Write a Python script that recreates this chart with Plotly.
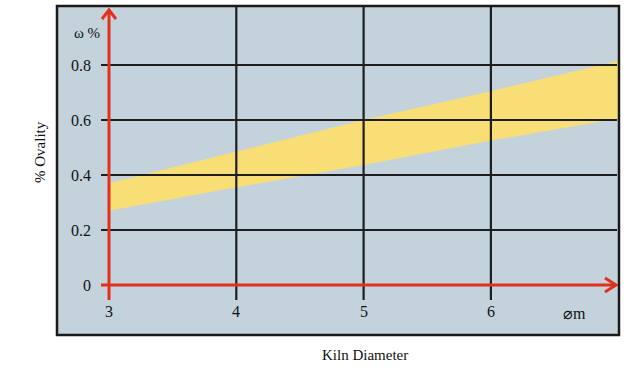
import plotly.graph_objects as go

# ---- data ----
diameters = [3, 4, 5, 6, 7]
ovality_upper = [0.37, 0.485, 0.60, 0.705, 0.815]
ovality_lower = [0.27, 0.355, 0.436, 0.525, 0.605]
x_ticks = [3, 4, 5, 6]
y_ticks = [0, 0.2, 0.4, 0.6, 0.8]
y_tick_labels = ["0", "0.2", "0.4", "0.6", "0.8"]
x_axis_title = "Kiln Diameter"
y_axis_title = "% Ovality"
x_unit = "⌀m"
y_unit = "ω %"

# ---- geometry ----
W, H = 641, 379
L, R, T, B = 57, 22, 6, 44
pw, ph = W - L - R, H - T - B
x0_px, px_per_x = 109 - L, 127.3   # pixel of x=3 inside plot, px per unit
y0_px, px_per_y = 285 - T, 275.0   # pixel of y=0 from top, px per unit
x_rng = [3 - x0_px / px_per_x, 3 + (pw - x0_px) / px_per_x]
y_rng = [(y0_px - ph) / px_per_y, y0_px / px_per_y]
dx = 1 / px_per_x
dy = 1 / px_per_y

BG = "#c4d2db"
YEL = "#f9de76"
RED = "#e2301f"
GRID = "#1e1e1e"
FONT = "Liberation Serif"

fig = go.Figure()

# band
fig.add_trace(go.Scatter(x=diameters, y=ovality_lower, mode="lines",
                         line=dict(width=0, color=YEL), hoverinfo="skip"))
fig.add_trace(go.Scatter(x=diameters, y=ovality_upper, mode="lines", fill="tonexty",
                         fillcolor=YEL, line=dict(width=0, color=YEL), hoverinfo="skip"))

shapes = []
# horizontal grid lines
for v in y_ticks[1:]:
    shapes.append(dict(type="line", xref="x", yref="y", x0=3 - 8 * dx, x1=x_rng[1] - 2 * dx,
                       y0=v, y1=v, line=dict(color=GRID, width=2.2), layer="above"))
# vertical grid lines
for v in x_ticks[1:]:
    shapes.append(dict(type="line", xref="x", yref="y", x0=v, x1=v,
                       y0=-15 * dy, y1=y_rng[1], line=dict(color=GRID, width=2.2), layer="above"))
# red axes
shapes.append(dict(type="line", xref="x", yref="y", x0=3 - 8 * dx, x1=x_rng[1] - 3 * dx,
                   y0=0, y1=0, line=dict(color=RED, width=3), layer="above"))
shapes.append(dict(type="line", xref="x", yref="y", x0=3, x1=3,
                   y0=-15 * dy, y1=1.0, line=dict(color=RED, width=3), layer="above"))
# arrowheads (chevrons)
tipx = x_rng[1] - 3 * dx
shapes.append(dict(type="path", xref="x", yref="y",
                   path=f"M {tipx-11*dx},{7*dy} L {tipx},0 L {tipx-11*dx},{-7*dy}",
                   line=dict(color=RED, width=3), layer="above"))
shapes.append(dict(type="path", xref="x", yref="y",
                   path=f"M {3-7*dx},{1.0-9*dy} L 3,1.0 L {3+7*dx},{1.0-9*dy}",
                   line=dict(color=RED, width=3), layer="above"))
# frame
shapes.append(dict(type="rect", xref="paper", yref="paper", x0=0, x1=1, y0=0, y1=1,
                   line=dict(color="#1a1a1a", width=2.5), layer="above"))

annotations = []
for v, t in zip(y_ticks, y_tick_labels):
    annotations.append(dict(x=3, y=v, xref="x", yref="y", text=t, showarrow=False,
                            xanchor="right", yanchor="middle", xshift=-16,
                            font=dict(family=FONT, size=16, color="#111")))
for v in x_ticks:
    annotations.append(dict(x=v, y=0, xref="x", yref="y", text=str(v), showarrow=False,
                            xanchor="center", yanchor="middle", yshift=-26,
                            font=dict(family=FONT, size=16, color="#111")))
annotations.append(dict(x=3, y=0.8, xref="x", yref="y", text=y_unit, showarrow=False,
                        xanchor="center", yanchor="middle", xshift=-22, yshift=32,
                        font=dict(family=FONT, size=15, color="#111")))
annotations.append(dict(x=6, y=0, xref="x", yref="y", text=x_unit, showarrow=False,
                        xanchor="center", yanchor="middle", xshift=84, yshift=-28,
                        font=dict(family=FONT, size=16, color="#111")))
annotations.append(dict(x=365, y=H - 365, xref="paper", yref="paper", text=x_axis_title,
                        showarrow=False, font=dict(family=FONT, size=15, color="#111")))
annotations.append(dict(x=30, y=H - 152, xref="paper", yref="paper", text=y_axis_title,
                        showarrow=False, textangle=-90, font=dict(family=FONT, size=15, color="#111")))
# convert pixel-positioned titles to paper coords
for a in annotations[-2:]:
    a["x"] = (a["x"] - L) / pw
    a["y"] = (a["y"] - B) / ph

fig.update_layout(
    width=W, height=H,
    margin=dict(l=L, r=R, t=T, b=B, pad=0),
    paper_bgcolor="white", plot_bgcolor=BG,
    showlegend=False,
    xaxis=dict(range=x_rng, showgrid=False, zeroline=False, showticklabels=False, ticks=""),
    yaxis=dict(range=y_rng, showgrid=False, zeroline=False, showticklabels=False, ticks=""),
    shapes=shapes, annotations=annotations,
)

fig.write_html("out.html", config={"displayModeBar": False},
               post_script="document.body.style.margin='0';")
